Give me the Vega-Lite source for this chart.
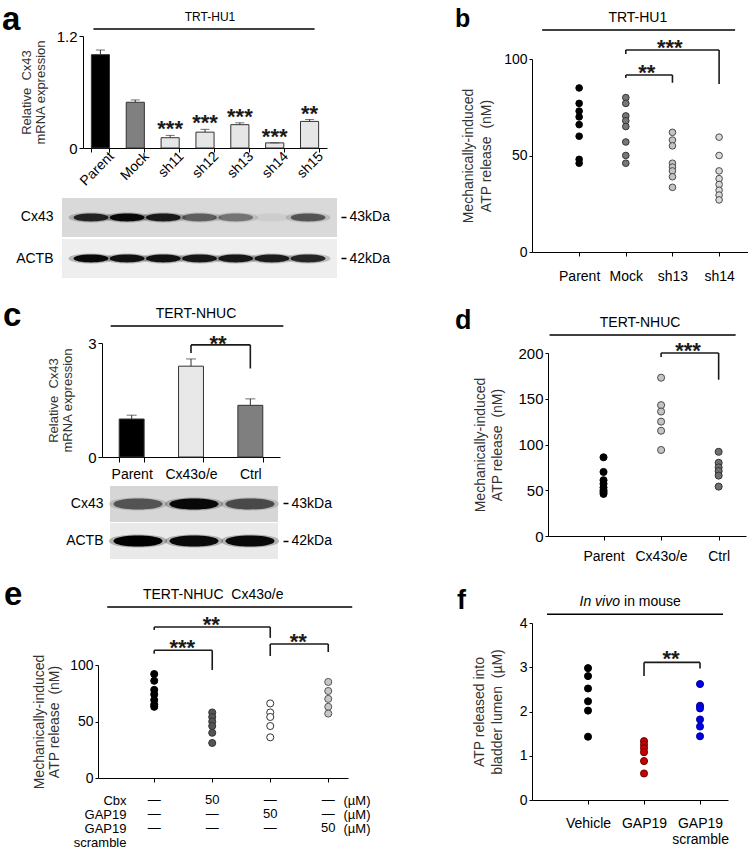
{
"$schema": "https://vega.github.io/schema/vega-lite/v6.json",
"padding": 0,
"background": "#ffffff",
"bounds": "flush",
"spacing": 0,
"resolve": {"scale": {"fill": "independent", "stroke": "independent", "opacity": "independent"}},
"config": {
  "view": {"stroke": null},
  "font": "Liberation Sans",
  "axis": {"domainColor": "#000000", "tickColor": "#000000", "labelColor": "#000000", "titleColor": "#333333", "grid": false, "labelFont": "Liberation Sans", "titleFont": "Liberation Sans", "titleFontWeight": "normal", "labelFontSize": 14, "titleFontSize": 14, "titleLineHeight": 16, "domainWidth": 1, "tickWidth": 1},
  "text": {"font": "Liberation Sans"},
  "title": {"font": "Liberation Sans", "fontWeight": "bold", "color": "#000000"}
},
"datasets": {
  "blank": [{}],
  "blot_rows": [{"protein": "Cx43"}, {"protein": "ACTB"}],
  "a_bars": [
    {"group": "Parent", "mean": 1.0, "upper": 1.05, "sig": ""},
    {"group": "Mock", "mean": 0.49, "upper": 0.515, "sig": ""},
    {"group": "sh11", "mean": 0.11, "upper": 0.135, "sig": "***"},
    {"group": "sh12", "mean": 0.17, "upper": 0.2, "sig": "***"},
    {"group": "sh13", "mean": 0.25, "upper": 0.27, "sig": "***"},
    {"group": "sh14", "mean": 0.055, "upper": 0.055, "sig": "***"},
    {"group": "sh15", "mean": 0.285, "upper": 0.305, "sig": "**"}
  ],
  "a_head": [{"from": "Parent", "to": "sh15", "anchor": "sh12", "level": 1.275, "label": "TRT-HU1"}],
  "a_blot": [
    {"lane": "Parent", "protein": "Cx43", "intensity": 0.8},
    {"lane": "Mock", "protein": "Cx43", "intensity": 0.95},
    {"lane": "sh11", "protein": "Cx43", "intensity": 0.85},
    {"lane": "sh12", "protein": "Cx43", "intensity": 0.5},
    {"lane": "sh13", "protein": "Cx43", "intensity": 0.4},
    {"lane": "sh14", "protein": "Cx43", "intensity": 0.04},
    {"lane": "sh15", "protein": "Cx43", "intensity": 0.55},
    {"lane": "Parent", "protein": "ACTB", "intensity": 0.95},
    {"lane": "Mock", "protein": "ACTB", "intensity": 0.9},
    {"lane": "sh11", "protein": "ACTB", "intensity": 0.9},
    {"lane": "sh12", "protein": "ACTB", "intensity": 0.88},
    {"lane": "sh13", "protein": "ACTB", "intensity": 0.88},
    {"lane": "sh14", "protein": "ACTB", "intensity": 0.85},
    {"lane": "sh15", "protein": "ACTB", "intensity": 0.8}
  ],
  "c_bars": [
    {"group": "Parent", "mean": 1.0, "upper": 1.1},
    {"group": "Cx43o/e", "mean": 2.39, "upper": 2.58},
    {"group": "Ctrl", "mean": 1.36, "upper": 1.53}
  ],
  "c_br": [
    {"from": "Cx43o/e", "to": "Ctrl", "top": 2.95, "end": 2.95},
    {"from": "Cx43o/e", "to": "Cx43o/e", "top": 2.95, "end": 2.74},
    {"from": "Ctrl", "to": "Ctrl", "top": 2.95, "end": 2.33}
  ],
  "c_sig": [{"at": "Cx43o/e", "top": 2.95, "sig": "**"}],
  "c_head": [{"from": "Parent", "to": "Ctrl", "anchor": "Cx43o/e", "level": 3.45, "label": "TERT-NHUC"}],
  "c_blot": [
    {"lane": "Parent", "protein": "Cx43", "intensity": 0.55},
    {"lane": "Cx43o/e", "protein": "Cx43", "intensity": 0.95},
    {"lane": "Ctrl", "protein": "Cx43", "intensity": 0.6},
    {"lane": "Parent", "protein": "ACTB", "intensity": 1.0},
    {"lane": "Cx43o/e", "protein": "ACTB", "intensity": 0.95},
    {"lane": "Ctrl", "protein": "ACTB", "intensity": 0.95}
  ],
  "e_pts": [
    {"group": "Control", "value": 92}, {"group": "Control", "value": 86}, {"group": "Control", "value": 78}, {"group": "Control", "value": 74}, {"group": "Control", "value": 69}, {"group": "Control", "value": 65}, {"group": "Control", "value": 63},
    {"group": "Cbx", "value": 58}, {"group": "Cbx", "value": 54}, {"group": "Cbx", "value": 50}, {"group": "Cbx", "value": 46}, {"group": "Cbx", "value": 40}, {"group": "Cbx", "value": 31},
    {"group": "GAP19", "value": 66}, {"group": "GAP19", "value": 58}, {"group": "GAP19", "value": 54}, {"group": "GAP19", "value": 46}, {"group": "GAP19", "value": 36},
    {"group": "GAP19 scramble", "value": 85}, {"group": "GAP19 scramble", "value": 77}, {"group": "GAP19 scramble", "value": 70}, {"group": "GAP19 scramble", "value": 63}, {"group": "GAP19 scramble", "value": 57}
  ],
  "e_br": [
    {"from": "Control", "to": "Cbx", "top": 113, "end": 113},
    {"from": "Control", "to": "Control", "top": 113, "end": 110},
    {"from": "Cbx", "to": "Cbx", "top": 113, "end": 95.6},
    {"from": "Control", "to": "GAP19", "top": 133.6, "end": 133.6},
    {"from": "Control", "to": "Control", "top": 133.6, "end": 131},
    {"from": "GAP19", "to": "GAP19", "top": 133.6, "end": 124},
    {"from": "GAP19", "to": "GAP19 scramble", "top": 118.6, "end": 118.6},
    {"from": "GAP19", "to": "GAP19", "top": 118.6, "end": 108},
    {"from": "GAP19 scramble", "to": "GAP19 scramble", "top": 118.6, "end": 111.5}
  ],
  "e_sig_a": [{"at": "Control", "top": 113, "sig": "***"}, {"at": "GAP19", "top": 118.6, "sig": "**"}],
  "e_sig_b": [{"at": "Cbx", "top": 133.6, "sig": "**"}],
  "e_head": [{"from": "Control", "to": "GAP19 scramble", "anchor": "Cbx", "level": 151.3, "label": "TERT-NHUC\u00a0 Cx43o/e"}],
  "e_table": [
    {"agent": "Cbx", "group": "Control", "dose": "\u2014"}, {"agent": "Cbx", "group": "Cbx", "dose": "50"}, {"agent": "Cbx", "group": "GAP19", "dose": "\u2014"}, {"agent": "Cbx", "group": "GAP19 scramble", "dose": "\u2014"},
    {"agent": "GAP19", "group": "Control", "dose": "\u2014"}, {"agent": "GAP19", "group": "Cbx", "dose": "\u2014"}, {"agent": "GAP19", "group": "GAP19", "dose": "50"}, {"agent": "GAP19", "group": "GAP19 scramble", "dose": "\u2014"},
    {"agent": "GAP19 scramble", "group": "Control", "dose": "\u2014"}, {"agent": "GAP19 scramble", "group": "Cbx", "dose": "\u2014"}, {"agent": "GAP19 scramble", "group": "GAP19", "dose": "\u2014"}, {"agent": "GAP19 scramble", "group": "GAP19 scramble", "dose": "50"}
  ],
  "e_agents": [{"agent": "Cbx"}, {"agent": "GAP19"}, {"agent": "GAP19 scramble"}],
  "b_pts": [
    {"group": "Parent", "value": 85}, {"group": "Parent", "value": 77}, {"group": "Parent", "value": 73}, {"group": "Parent", "value": 70}, {"group": "Parent", "value": 66}, {"group": "Parent", "value": 60}, {"group": "Parent", "value": 48}, {"group": "Parent", "value": 46},
    {"group": "Mock", "value": 80}, {"group": "Mock", "value": 77}, {"group": "Mock", "value": 70.5}, {"group": "Mock", "value": 68}, {"group": "Mock", "value": 65}, {"group": "Mock", "value": 57}, {"group": "Mock", "value": 50}, {"group": "Mock", "value": 46},
    {"group": "sh13", "value": 62}, {"group": "sh13", "value": 58}, {"group": "sh13", "value": 55}, {"group": "sh13", "value": 46}, {"group": "sh13", "value": 44}, {"group": "sh13", "value": 42}, {"group": "sh13", "value": 39}, {"group": "sh13", "value": 33.5},
    {"group": "sh14", "value": 59.5}, {"group": "sh14", "value": 50}, {"group": "sh14", "value": 42}, {"group": "sh14", "value": 38}, {"group": "sh14", "value": 35}, {"group": "sh14", "value": 32}, {"group": "sh14", "value": 29.5}, {"group": "sh14", "value": 27}
  ],
  "b_br": [
    {"from": "Mock", "to": "sh14", "top": 104.7, "end": 104.7},
    {"from": "Mock", "to": "Mock", "top": 104.7, "end": 102.6},
    {"from": "sh14", "to": "sh14", "top": 104.7, "end": 87},
    {"from": "Mock", "to": "sh13", "top": 91.7, "end": 91.7},
    {"from": "Mock", "to": "Mock", "top": 91.7, "end": 90.2},
    {"from": "sh13", "to": "sh13", "top": 91.7, "end": 87.7}
  ],
  "b_sig3": [{"at": "Mock", "top": 104.7, "sig": "***"}],
  "b_sig2": [{"at": "Mock", "top": 91.7, "sig": "**"}],
  "b_head": [{"from": "Parent", "to": "sh14", "anchor": "Mock", "level": 115, "label": "TRT-HU1"}],
  "d_pts": [
    {"group": "Parent", "value": 86}, {"group": "Parent", "value": 70}, {"group": "Parent", "value": 61}, {"group": "Parent", "value": 57}, {"group": "Parent", "value": 53}, {"group": "Parent", "value": 50}, {"group": "Parent", "value": 48}, {"group": "Parent", "value": 46},
    {"group": "Cx43o/e", "value": 173}, {"group": "Cx43o/e", "value": 143}, {"group": "Cx43o/e", "value": 136}, {"group": "Cx43o/e", "value": 125}, {"group": "Cx43o/e", "value": 115}, {"group": "Cx43o/e", "value": 94},
    {"group": "Ctrl", "value": 92}, {"group": "Ctrl", "value": 80}, {"group": "Ctrl", "value": 75}, {"group": "Ctrl", "value": 71}, {"group": "Ctrl", "value": 66}, {"group": "Ctrl", "value": 54}
  ],
  "d_br": [
    {"from": "Cx43o/e", "to": "Ctrl", "top": 200, "end": 200},
    {"from": "Cx43o/e", "to": "Cx43o/e", "top": 200, "end": 195.6},
    {"from": "Ctrl", "to": "Ctrl", "top": 200, "end": 170.8}
  ],
  "d_sig": [{"at": "Cx43o/e", "top": 200, "sig": "***"}],
  "d_head": [{"from": "Parent", "to": "Ctrl", "anchor": "Cx43o/e", "level": 219.7, "label": "TERT-NHUC"}],
  "f_pts": [
    {"group": "Vehicle", "value": 2.98}, {"group": "Vehicle", "value": 2.8}, {"group": "Vehicle", "value": 2.52}, {"group": "Vehicle", "value": 2.23}, {"group": "Vehicle", "value": 2.02}, {"group": "Vehicle", "value": 1.43},
    {"group": "GAP19", "value": 1.33}, {"group": "GAP19", "value": 1.25}, {"group": "GAP19", "value": 1.17}, {"group": "GAP19", "value": 1.08}, {"group": "GAP19", "value": 0.88}, {"group": "GAP19", "value": 0.6},
    {"group": "GAP19 scramble", "value": 2.62}, {"group": "GAP19 scramble", "value": 2.13}, {"group": "GAP19 scramble", "value": 2.07}, {"group": "GAP19 scramble", "value": 1.82}, {"group": "GAP19 scramble", "value": 1.66}, {"group": "GAP19 scramble", "value": 1.44}
  ],
  "f_br": [
    {"from": "GAP19", "to": "GAP19 scramble", "top": 3.11, "end": 3.11},
    {"from": "GAP19", "to": "GAP19", "top": 3.11, "end": 2.8},
    {"from": "GAP19 scramble", "to": "GAP19 scramble", "top": 3.11, "end": 2.97}
  ],
  "f_sig": [{"at": "GAP19", "top": 3.11, "sig": "**"}],
  "f_head": [{"from": "Vehicle", "to": "GAP19 scramble", "anchor": "GAP19", "level": 4.2, "italic": "In vivo", "rest": "in mouse"}]
},
"vconcat": [
{"bounds": "flush", "spacing": 0, "resolve": {"scale": {"fill": "independent", "stroke": "independent", "opacity": "independent"}}, "hconcat": [
  {"width": 83, "height": 20, "data": {"name": "blank"}, "mark": "text", "encoding": {"text": {"value": ""}}},
  {"bounds": "flush", "spacing": 0, "resolve": {"scale": {"fill": "independent", "stroke": "independent", "opacity": "independent"}}, "vconcat": [
    {"width": 1, "height": 36, "data": {"name": "blank"}, "mark": "text", "encoding": {"text": {"value": ""}},
     "title": {"text": "a", "anchor": "start", "frame": "group", "orient": "top", "offset": -37, "dx": -81, "baseline": "top", "fontSize": 33, "fontWeight": "bold", "color": "#000000"}},
    {"width": 244, "height": 112, "layer": [
      {"data": {"name": "a_bars"}, "mark": {"type": "bar", "stroke": "#333333", "strokeWidth": 1},
       "encoding": {
         "x": {"field": "group", "type": "nominal", "scale": {"type": "band", "domain": ["Parent", "Mock", "sh11", "sh12", "sh13", "sh14", "sh15"], "paddingInner": 0.48, "paddingOuter": 0.24},
               "axis": {"title": null, "labelAngle": -45, "labelAlign": "right", "labelBaseline": "middle", "tickBand": "extent", "tickSize": 4, "labelPadding": 2, "labelOffset": 11, "labelFontSize": 14}},
         "y": {"field": "mean", "type": "quantitative", "scale": {"domain": [0, 1.2]},
               "axis": {"title": ["Relative\u00a0 Cx43", "mRNA expression"], "values": [0, 0.4, 0.8, 1.2], "format": ".1~f", "tickSize": 4, "labelPadding": 2, "labelFontSize": 15, "titleFontSize": 13, "titlePadding": 9, "titleLineHeight": 14}},
         "fill": {"field": "group", "type": "nominal", "scale": {"domain": ["Parent", "Mock", "sh11", "sh12", "sh13", "sh14", "sh15"], "range": ["#000000", "#808080", "#e6e6e6", "#e6e6e6", "#e6e6e6", "#e6e6e6", "#e6e6e6"]}, "legend": null}
       }},
      {"data": {"name": "a_bars"}, "mark": {"type": "rule", "color": "#333333", "strokeWidth": 1},
       "encoding": {"x": {"field": "group", "type": "nominal"}, "y": {"field": "mean", "type": "quantitative"}, "y2": {"field": "upper"}}},
      {"data": {"name": "a_bars"}, "mark": {"type": "tick", "orient": "horizontal", "size": 9, "thickness": 1, "color": "#333333"},
       "encoding": {"x": {"field": "group", "type": "nominal"}, "y": {"field": "upper", "type": "quantitative"}}},
      {"data": {"name": "a_bars"}, "mark": {"type": "text", "fontSize": 22, "fontWeight": "bold", "baseline": "alphabetic", "dy": 1, "color": "#1a1a1a"},
       "encoding": {"x": {"field": "group", "type": "nominal"}, "y": {"field": "upper", "type": "quantitative"}, "text": {"field": "sig"}}},
      {"data": {"name": "a_head"}, "mark": {"type": "rule", "strokeWidth": 1.5, "color": "#000000", "xOffset": -7, "x2Offset": 5},
       "encoding": {"x": {"field": "from", "type": "nominal"}, "x2": {"field": "to"}, "y": {"field": "level", "type": "quantitative"}}},
      {"data": {"name": "a_head"}, "mark": {"type": "text", "fontSize": 12, "baseline": "middle", "dy": -12, "dx": 5, "color": "#000000"},
       "encoding": {"x": {"field": "anchor", "type": "nominal"}, "y": {"field": "level", "type": "quantitative"}, "text": {"field": "label"}}}
    ]}
  ]}
]},
{"bounds": "flush", "spacing": 0, "resolve": {"scale": {"fill": "independent", "stroke": "independent", "opacity": "independent"}}, "hconcat": [
  {"width": 62, "height": 20, "data": {"name": "blank"}, "mark": "text", "encoding": {"text": {"value": ""}}},
  {"bounds": "flush", "spacing": 0, "resolve": {"scale": {"fill": "independent", "stroke": "independent", "opacity": "independent"}}, "vconcat": [
    {"width": 1, "height": 198, "data": {"name": "blank"}, "mark": "text", "encoding": {"text": {"value": ""}}},
    {"width": 275, "height": 80, "layer": [
      {"data": {"name": "blot_rows"}, "mark": {"type": "rect"},
       "encoding": {"y": {"field": "protein", "type": "nominal", "scale": {"type": "band", "domain": ["Cx43", "ACTB"], "paddingInner": 0.05, "paddingOuter": 0}, "axis": null},
                    "fill": {"field": "protein", "type": "nominal", "scale": {"domain": ["Cx43", "ACTB"], "range": ["#d9d9d9", "#eeeeee"]}, "legend": null}}},
      {"data": {"name": "a_blot"}, "mark": {"type": "point", "shape": "M-1,0C-1,-0.3,1,-0.3,1,0C1,0.3,-1,0.3,-1,0Z", "filled": true, "color": "#000000", "size": 2000, "strokeWidth": 0},
       "encoding": {"x": {"field": "lane", "type": "nominal", "scale": {"type": "point", "domain": ["Parent", "Mock", "sh11", "sh12", "sh13", "sh14", "sh15"], "padding": 0.8}, "axis": null},
                    "y": {"field": "protein", "type": "nominal", "axis": {"orient": "right", "title": null, "domain": false, "tickSize": 5, "tickWidth": 1.5, "offset": 4, "labelPadding": 3, "labelFontSize": 14, "labelExpr": "datum.value == 'Cx43' ? '43kDa' : '42kDa'"}},
                    "opacity": {"field": "intensity", "type": "quantitative", "scale": {"domain": [0, 1], "range": [0, 0.25]}, "legend": null}}},
      {"data": {"name": "a_blot"}, "mark": {"type": "point", "shape": "M-1,0C-1,-0.3,1,-0.3,1,0C1,0.3,-1,0.3,-1,0Z", "filled": true, "color": "#000000", "size": 1200, "strokeWidth": 0},
       "encoding": {"x": {"field": "lane", "type": "nominal"},
                    "y": {"field": "protein", "type": "nominal", "axis": {"orient": "left", "title": null, "domain": false, "ticks": false, "tickSize": 0, "labelPadding": 9, "labelFontSize": 14}},
                    "opacity": {"field": "intensity", "type": "quantitative", "scale": {"domain": [0, 1], "range": [0, 1]}, "legend": null}}}
    ], "resolve": {"axis": {"y": "independent"}, "scale": {"opacity": "independent"}}}
  ]}
]},
{"bounds": "flush", "spacing": 0, "resolve": {"scale": {"fill": "independent", "stroke": "independent", "opacity": "independent"}}, "hconcat": [
  {"width": 102, "height": 20, "data": {"name": "blank"}, "mark": "text", "encoding": {"text": {"value": ""}}},
  {"bounds": "flush", "spacing": 0, "resolve": {"scale": {"fill": "independent", "stroke": "independent", "opacity": "independent"}}, "vconcat": [
    {"width": 1, "height": 343, "data": {"name": "blank"}, "mark": "text", "encoding": {"text": {"value": ""}},
     "title": {"text": "c", "anchor": "start", "frame": "group", "orient": "top", "offset": -359, "dx": -99, "baseline": "alphabetic", "fontSize": 33, "fontWeight": "bold", "color": "#000000"}},
    {"width": 178, "height": 114, "layer": [
      {"data": {"name": "c_bars"}, "mark": {"type": "bar", "stroke": "#333333", "strokeWidth": 1},
       "encoding": {
         "x": {"field": "group", "type": "nominal", "scale": {"type": "band", "domain": ["Parent", "Cx43o/e", "Ctrl"], "paddingInner": 0.58, "paddingOuter": 0.29},
               "axis": {"title": null, "labelAngle": 0, "tickBand": "extent", "tickSize": 5, "labelPadding": 12, "labelBaseline": "middle", "labelFontSize": 14}},
         "y": {"field": "mean", "type": "quantitative", "scale": {"domain": [0, 3]},
               "axis": {"title": ["Relative\u00a0 Cx43", "mRNA expression"], "values": [0, 1, 2, 3], "tickSize": 4, "labelPadding": 2, "labelFontSize": 15, "titleFontSize": 13, "titlePadding": 13, "titleLineHeight": 14}},
         "fill": {"field": "group", "type": "nominal", "scale": {"domain": ["Parent", "Cx43o/e", "Ctrl"], "range": ["#000000", "#e8e8e8", "#7f7f7f"]}, "legend": null}
       }},
      {"data": {"name": "c_bars"}, "mark": {"type": "rule", "color": "#333333", "strokeWidth": 1},
       "encoding": {"x": {"field": "group", "type": "nominal"}, "y": {"field": "mean", "type": "quantitative"}, "y2": {"field": "upper"}}},
      {"data": {"name": "c_bars"}, "mark": {"type": "tick", "orient": "horizontal", "size": 10, "thickness": 1, "color": "#333333"},
       "encoding": {"x": {"field": "group", "type": "nominal"}, "y": {"field": "upper", "type": "quantitative"}}},
      {"data": {"name": "c_br"}, "mark": {"type": "rule", "strokeWidth": 1.6, "color": "#1a1a1a"},
       "encoding": {"x": {"field": "from", "type": "nominal"}, "x2": {"field": "to"}, "y": {"field": "top", "type": "quantitative"}, "y2": {"field": "end"}}},
      {"data": {"name": "c_sig"}, "mark": {"type": "text", "fontSize": 22, "fontWeight": "bold", "baseline": "alphabetic", "dx": 27, "dy": 6, "color": "#1a1a1a"},
       "encoding": {"x": {"field": "at", "type": "nominal"}, "y": {"field": "top", "type": "quantitative"}, "text": {"field": "sig"}}},
      {"data": {"name": "c_head"}, "mark": {"type": "rule", "strokeWidth": 1.5, "color": "#000000", "xOffset": -21, "x2Offset": 33},
       "encoding": {"x": {"field": "from", "type": "nominal"}, "x2": {"field": "to"}, "y": {"field": "level", "type": "quantitative"}}},
      {"data": {"name": "c_head"}, "mark": {"type": "text", "fontSize": 14, "baseline": "middle", "dy": -12, "dx": 5, "color": "#000000"},
       "encoding": {"x": {"field": "anchor", "type": "nominal"}, "y": {"field": "level", "type": "quantitative"}, "text": {"field": "label"}}}
    ]}
  ]}
]},
{"bounds": "flush", "spacing": 0, "resolve": {"scale": {"fill": "independent", "stroke": "independent", "opacity": "independent"}}, "hconcat": [
  {"width": 110, "height": 20, "data": {"name": "blank"}, "mark": "text", "encoding": {"text": {"value": ""}}},
  {"bounds": "flush", "spacing": 0, "resolve": {"scale": {"fill": "independent", "stroke": "independent", "opacity": "independent"}}, "vconcat": [
    {"width": 1, "height": 486, "data": {"name": "blank"}, "mark": "text", "encoding": {"text": {"value": ""}}},
    {"width": 168, "height": 73, "layer": [
      {"data": {"name": "blot_rows"}, "mark": {"type": "rect"},
       "encoding": {"y": {"field": "protein", "type": "nominal", "scale": {"type": "band", "domain": ["Cx43", "ACTB"], "paddingInner": 0.03, "paddingOuter": 0}, "axis": null},
                    "fill": {"field": "protein", "type": "nominal", "scale": {"domain": ["Cx43", "ACTB"], "range": ["#d6d6d6", "#e9e9e9"]}, "legend": null}}},
      {"data": {"name": "c_blot"}, "mark": {"type": "point", "shape": "M-1,0C-1,-0.3,1,-0.3,1,0C1,0.3,-1,0.3,-1,0Z", "filled": true, "color": "#000000", "size": 3400, "strokeWidth": 0},
       "encoding": {"x": {"field": "lane", "type": "nominal", "scale": {"type": "point", "domain": ["Parent", "Cx43o/e", "Ctrl"], "padding": 0.5}, "axis": null},
                    "y": {"field": "protein", "type": "nominal", "axis": {"orient": "right", "title": null, "domain": false, "tickSize": 5, "tickWidth": 1.5, "offset": 5, "labelPadding": 3, "labelFontSize": 14, "labelExpr": "datum.value == 'Cx43' ? '43kDa' : '42kDa'"}},
                    "opacity": {"field": "intensity", "type": "quantitative", "scale": {"domain": [0, 1], "range": [0, 0.25]}, "legend": null}}},
      {"data": {"name": "c_blot"}, "mark": {"type": "point", "shape": "M-1,0C-1,-0.3,1,-0.3,1,0C1,0.3,-1,0.3,-1,0Z", "filled": true, "color": "#000000", "size": 2400, "strokeWidth": 0},
       "encoding": {"x": {"field": "lane", "type": "nominal"},
                    "y": {"field": "protein", "type": "nominal", "axis": {"orient": "left", "title": null, "domain": false, "ticks": false, "tickSize": 0, "labelPadding": 7, "labelFontSize": 14}},
                    "opacity": {"field": "intensity", "type": "quantitative", "scale": {"domain": [0, 1], "range": [0, 1]}, "legend": null}}}
    ], "resolve": {"axis": {"y": "independent"}, "scale": {"opacity": "independent"}}}
  ]}
]},
{"bounds": "flush", "spacing": 0, "resolve": {"scale": {"fill": "independent", "stroke": "independent", "opacity": "independent"}}, "hconcat": [
  {"width": 98, "height": 20, "data": {"name": "blank"}, "mark": "text", "encoding": {"text": {"value": ""}}},
  {"bounds": "flush", "spacing": 0, "resolve": {"scale": {"fill": "independent", "stroke": "independent", "opacity": "independent"}}, "vconcat": [
    {"width": 1, "height": 665, "data": {"name": "blank"}, "mark": "text", "encoding": {"text": {"value": ""}},
     "title": {"text": "e", "anchor": "start", "frame": "group", "orient": "top", "offset": -638, "dx": -94, "baseline": "alphabetic", "fontSize": 33, "fontWeight": "bold", "color": "#000000"}},
    {"width": 250, "height": 113, "layer": [
      {"data": {"name": "e_pts"}, "mark": {"type": "circle", "size": 50, "strokeWidth": 1, "opacity": 1},
       "encoding": {
         "x": {"field": "group", "type": "nominal", "scale": {"type": "point", "domain": ["Control", "Cbx", "GAP19", "GAP19 scramble"], "padding": 0.655, "align": 0.74},
               "axis": {"title": null, "labels": false, "tickSize": 4}},
         "y": {"field": "value", "type": "quantitative", "scale": {"domain": [0, 100]},
               "axis": {"title": ["Mechanically-induced", "ATP release\u00a0 (nM)"], "values": [0, 50, 100], "tickSize": 3, "labelPadding": 2, "titlePadding": 8, "titleLineHeight": 15}},
         "fill": {"field": "group", "type": "nominal", "scale": {"domain": ["Control", "Cbx", "GAP19", "GAP19 scramble"], "range": ["#000000", "#555555", "#ffffff", "#c8c8c8"]}, "legend": null},
         "stroke": {"field": "group", "type": "nominal", "scale": {"domain": ["Control", "Cbx", "GAP19", "GAP19 scramble"], "range": ["#000000", "#333333", "#333333", "#555555"]}, "legend": null}
       }},
      {"data": {"name": "e_br"}, "mark": {"type": "rule", "strokeWidth": 1.6, "color": "#1a1a1a"},
       "encoding": {"x": {"field": "from", "type": "nominal"}, "x2": {"field": "to"}, "y": {"field": "top", "type": "quantitative"}, "y2": {"field": "end"}}},
      {"data": {"name": "e_sig_a"}, "mark": {"type": "text", "fontSize": 22, "fontWeight": "bold", "baseline": "alphabetic", "dx": 28, "dy": 5, "color": "#1a1a1a"},
       "encoding": {"x": {"field": "at", "type": "nominal"}, "y": {"field": "top", "type": "quantitative"}, "text": {"field": "sig"}}},
      {"data": {"name": "e_sig_b"}, "mark": {"type": "text", "fontSize": 22, "fontWeight": "bold", "baseline": "alphabetic", "dx": -1, "dy": 5, "color": "#1a1a1a"},
       "encoding": {"x": {"field": "at", "type": "nominal"}, "y": {"field": "top", "type": "quantitative"}, "text": {"field": "sig"}}},
      {"data": {"name": "e_head"}, "mark": {"type": "rule", "strokeWidth": 1.5, "color": "#000000", "xOffset": -47, "x2Offset": 24},
       "encoding": {"x": {"field": "from", "type": "nominal"}, "x2": {"field": "to"}, "y": {"field": "level", "type": "quantitative"}}},
      {"data": {"name": "e_head"}, "mark": {"type": "text", "fontSize": 14, "baseline": "middle", "dy": -12, "dx": 1, "color": "#000000"},
       "encoding": {"x": {"field": "anchor", "type": "nominal"}, "y": {"field": "level", "type": "quantitative"}, "text": {"field": "label"}}}
    ]}
  ]}
]},
{"bounds": "flush", "spacing": 0, "resolve": {"scale": {"fill": "independent", "stroke": "independent", "opacity": "independent"}}, "hconcat": [
  {"width": 98, "height": 20, "data": {"name": "blank"}, "mark": "text", "encoding": {"text": {"value": ""}}},
  {"bounds": "flush", "spacing": 0, "resolve": {"scale": {"fill": "independent", "stroke": "independent", "opacity": "independent"}}, "vconcat": [
    {"width": 1, "height": 804, "data": {"name": "blank"}, "mark": "text", "encoding": {"text": {"value": ""}}},
    {"width": 250, "height": 28, "layer": [
      {"data": {"name": "e_table"}, "mark": {"type": "text", "fontSize": 13, "baseline": "alphabetic", "color": "#000000"},
       "encoding": {
         "x": {"field": "group", "type": "nominal", "scale": {"type": "point", "domain": ["Control", "Cbx", "GAP19", "GAP19 scramble"], "padding": 0.655, "align": 0.74}, "axis": null},
         "y": {"field": "agent", "type": "nominal", "scale": {"type": "point", "domain": ["Cbx", "GAP19", "GAP19 scramble"], "padding": 0},
               "axis": {"orient": "left", "title": null, "domain": false, "ticks": false, "tickSize": 0, "offset": -30, "labelPadding": 2, "labelBaseline": "alphabetic", "labelFontSize": 13, "labelLineHeight": 14, "labelExpr": "datum.value == 'GAP19 scramble' ? ['GAP19', 'scramble'] : datum.value"}},
         "text": {"field": "dose"}
       }},
      {"data": {"name": "e_agents"}, "mark": {"type": "text"},
       "encoding": {
         "y": {"field": "agent", "type": "nominal",
               "axis": {"orient": "right", "title": null, "domain": false, "ticks": false, "tickSize": 0, "offset": -5, "labelPadding": 0, "labelBaseline": "alphabetic", "labelFontSize": 13, "labelExpr": "'(\u00b5M)'"}},
         "text": {"value": ""}
       }}
    ], "resolve": {"axis": {"y": "independent"}}}
  ]}
]},
{"bounds": "flush", "spacing": 0, "resolve": {"scale": {"fill": "independent", "stroke": "independent", "opacity": "independent"}}, "hconcat": [
  {"width": 532, "height": 20, "data": {"name": "blank"}, "mark": "text", "encoding": {"text": {"value": ""}}},
  {"bounds": "flush", "spacing": 0, "resolve": {"scale": {"fill": "independent", "stroke": "independent", "opacity": "independent"}}, "vconcat": [
    {"width": 1, "height": 59, "data": {"name": "blank"}, "mark": "text", "encoding": {"text": {"value": ""}},
     "title": {"text": "b", "anchor": "start", "frame": "group", "orient": "top", "offset": -52, "dx": -77, "baseline": "alphabetic", "fontSize": 25, "fontWeight": "bold", "color": "#000000"}},
    {"width": 216, "height": 193, "layer": [
      {"data": {"name": "b_pts"}, "mark": {"type": "circle", "size": 44, "strokeWidth": 1, "opacity": 1},
       "encoding": {
         "x": {"field": "group", "type": "nominal", "scale": {"type": "point", "domain": ["Parent", "Mock", "sh13", "sh14"], "padding": 0.815, "align": 0.62},
               "axis": {"title": null, "labelAngle": 0, "tickSize": 4, "labelPadding": 20, "labelBaseline": "middle", "labelFontSize": 14}},
         "y": {"field": "value", "type": "quantitative", "scale": {"domain": [0, 100]},
               "axis": {"title": ["Mechanically-induced", "ATP release\u00a0 (nM)"], "values": [0, 50, 100], "tickSize": 3, "labelPadding": 2, "titlePadding": 10, "titleLineHeight": 18}},
         "fill": {"field": "group", "type": "nominal", "scale": {"domain": ["Parent", "Mock", "sh13", "sh14"], "range": ["#000000", "#777777", "#c4c4c4", "#dadada"]}, "legend": null},
         "stroke": {"field": "group", "type": "nominal", "scale": {"domain": ["Parent", "Mock", "sh13", "sh14"], "range": ["#000000", "#333333", "#4a4a4a", "#4a4a4a"]}, "legend": null}
       }},
      {"data": {"name": "b_br"}, "mark": {"type": "rule", "strokeWidth": 1.6, "color": "#1a1a1a"},
       "encoding": {"x": {"field": "from", "type": "nominal"}, "x2": {"field": "to"}, "y": {"field": "top", "type": "quantitative"}, "y2": {"field": "end"}}},
      {"data": {"name": "b_sig3"}, "mark": {"type": "text", "fontSize": 22, "fontWeight": "bold", "baseline": "alphabetic", "dx": 44, "dy": 5, "color": "#1a1a1a"},
       "encoding": {"x": {"field": "at", "type": "nominal"}, "y": {"field": "top", "type": "quantitative"}, "text": {"field": "sig"}}},
      {"data": {"name": "b_sig2"}, "mark": {"type": "text", "fontSize": 22, "fontWeight": "bold", "baseline": "alphabetic", "dx": 21, "dy": 5, "color": "#1a1a1a"},
       "encoding": {"x": {"field": "at", "type": "nominal"}, "y": {"field": "top", "type": "quantitative"}, "text": {"field": "sig"}}},
      {"data": {"name": "b_head"}, "mark": {"type": "rule", "strokeWidth": 1.5, "color": "#000000", "xOffset": -37, "x2Offset": 16},
       "encoding": {"x": {"field": "from", "type": "nominal"}, "x2": {"field": "to"}, "y": {"field": "level", "type": "quantitative"}}},
      {"data": {"name": "b_head"}, "mark": {"type": "text", "fontSize": 14, "baseline": "middle", "dy": -12, "dx": 12, "color": "#000000"},
       "encoding": {"x": {"field": "anchor", "type": "nominal"}, "y": {"field": "level", "type": "quantitative"}, "text": {"field": "label"}}}
    ]}
  ]}
]},
{"bounds": "flush", "spacing": 0, "resolve": {"scale": {"fill": "independent", "stroke": "independent", "opacity": "independent"}}, "hconcat": [
  {"width": 548, "height": 20, "data": {"name": "blank"}, "mark": "text", "encoding": {"text": {"value": ""}}},
  {"bounds": "flush", "spacing": 0, "resolve": {"scale": {"fill": "independent", "stroke": "independent", "opacity": "independent"}}, "vconcat": [
    {"width": 1, "height": 353, "data": {"name": "blank"}, "mark": "text", "encoding": {"text": {"value": ""}},
     "title": {"text": "d", "anchor": "start", "frame": "group", "orient": "top", "offset": -356, "dx": -93, "baseline": "alphabetic", "fontSize": 27, "fontWeight": "bold", "color": "#000000"}},
    {"width": 198, "height": 183, "layer": [
      {"data": {"name": "d_pts"}, "mark": {"type": "circle", "size": 50, "strokeWidth": 1, "opacity": 1},
       "encoding": {
         "x": {"field": "group", "type": "nominal", "scale": {"type": "point", "domain": ["Parent", "Cx43o/e", "Ctrl"], "padding": 0.72, "align": 0.67},
               "axis": {"title": null, "labelAngle": 0, "tickSize": 4, "labelPadding": 16, "labelBaseline": "middle", "labelFontSize": 14}},
         "y": {"field": "value", "type": "quantitative", "scale": {"domain": [0, 200]},
               "axis": {"title": ["Mechanically-induced", "ATP release\u00a0 (nM)"], "values": [0, 50, 100, 150, 200], "tickSize": 3, "labelPadding": 2, "labelFontSize": 15, "titlePadding": 13, "titleLineHeight": 17}},
         "fill": {"field": "group", "type": "nominal", "scale": {"domain": ["Parent", "Cx43o/e", "Ctrl"], "range": ["#000000", "#c4c4c4", "#707070"]}, "legend": null},
         "stroke": {"field": "group", "type": "nominal", "scale": {"domain": ["Parent", "Cx43o/e", "Ctrl"], "range": ["#000000", "#4a4a4a", "#333333"]}, "legend": null}
       }},
      {"data": {"name": "d_br"}, "mark": {"type": "rule", "strokeWidth": 1.6, "color": "#1a1a1a"},
       "encoding": {"x": {"field": "from", "type": "nominal"}, "x2": {"field": "to"}, "y": {"field": "top", "type": "quantitative"}, "y2": {"field": "end"}}},
      {"data": {"name": "d_sig"}, "mark": {"type": "text", "fontSize": 22, "fontWeight": "bold", "baseline": "alphabetic", "dx": 27, "dy": 5, "color": "#1a1a1a"},
       "encoding": {"x": {"field": "at", "type": "nominal"}, "y": {"field": "top", "type": "quantitative"}, "text": {"field": "sig"}}},
      {"data": {"name": "d_head"}, "mark": {"type": "rule", "strokeWidth": 1.5, "color": "#000000", "xOffset": -54, "x2Offset": 17},
       "encoding": {"x": {"field": "from", "type": "nominal"}, "x2": {"field": "to"}, "y": {"field": "level", "type": "quantitative"}}},
      {"data": {"name": "d_head"}, "mark": {"type": "text", "fontSize": 14, "baseline": "middle", "dy": -12, "dx": -21, "color": "#000000"},
       "encoding": {"x": {"field": "anchor", "type": "nominal"}, "y": {"field": "level", "type": "quantitative"}, "text": {"field": "label"}}}
    ]}
  ]}
]},
{"bounds": "flush", "spacing": 0, "resolve": {"scale": {"fill": "independent", "stroke": "independent", "opacity": "independent"}}, "hconcat": [
  {"width": 532, "height": 20, "data": {"name": "blank"}, "mark": "text", "encoding": {"text": {"value": ""}}},
  {"bounds": "flush", "spacing": 0, "resolve": {"scale": {"fill": "independent", "stroke": "independent", "opacity": "independent"}}, "vconcat": [
    {"width": 1, "height": 623, "data": {"name": "blank"}, "mark": "text", "encoding": {"text": {"value": ""}},
     "title": {"text": "f", "anchor": "start", "frame": "group", "orient": "top", "offset": -636, "dx": -75, "baseline": "alphabetic", "fontSize": 27, "fontWeight": "bold", "color": "#000000"}},
    {"width": 196, "height": 177, "layer": [
      {"data": {"name": "f_pts"}, "mark": {"type": "circle", "size": 50, "strokeWidth": 1, "opacity": 1},
       "encoding": {
         "x": {"field": "group", "type": "nominal", "scale": {"type": "point", "domain": ["Vehicle", "GAP19", "GAP19 scramble"], "padding": 0.75, "align": 0.667},
               "axis": {"title": null, "labelAngle": 0, "tickSize": 4, "labelPadding": 19, "labelBaseline": "middle", "labelFontSize": 14, "labelLineHeight": 16, "labelExpr": "datum.value == 'GAP19 scramble' ? ['GAP19', 'scramble'] : datum.value"}},
         "y": {"field": "value", "type": "quantitative", "scale": {"domain": [0, 4]},
               "axis": {"title": ["ATP released into", "bladder lumen\u00a0 (\u00b5M)"], "values": [0, 1, 2, 3, 4], "tickSize": 3, "labelPadding": 2, "titlePadding": 15, "titleLineHeight": 18}},
         "fill": {"field": "group", "type": "nominal", "scale": {"domain": ["Vehicle", "GAP19", "GAP19 scramble"], "range": ["#000000", "#cc0000", "#0000ee"]}, "legend": null},
         "stroke": {"field": "group", "type": "nominal", "scale": {"domain": ["Vehicle", "GAP19", "GAP19 scramble"], "range": ["#000000", "#660000", "#00008b"]}, "legend": null}
       }},
      {"data": {"name": "f_br"}, "mark": {"type": "rule", "strokeWidth": 1.6, "color": "#1a1a1a"},
       "encoding": {"x": {"field": "from", "type": "nominal"}, "x2": {"field": "to"}, "y": {"field": "top", "type": "quantitative"}, "y2": {"field": "end"}}},
      {"data": {"name": "f_sig"}, "mark": {"type": "text", "fontSize": 22, "fontWeight": "bold", "baseline": "alphabetic", "dx": 27, "dy": 4, "color": "#1a1a1a"},
       "encoding": {"x": {"field": "at", "type": "nominal"}, "y": {"field": "top", "type": "quantitative"}, "text": {"field": "sig"}}},
      {"data": {"name": "f_head"}, "mark": {"type": "rule", "strokeWidth": 1.5, "color": "#000000", "xOffset": -41, "x2Offset": 23},
       "encoding": {"x": {"field": "from", "type": "nominal"}, "x2": {"field": "to"}, "y": {"field": "level", "type": "quantitative"}}},
      {"data": {"name": "f_head"}, "mark": {"type": "text", "fontSize": 14, "fontStyle": "italic", "align": "right", "baseline": "middle", "dy": -12, "dx": -24, "color": "#000000"},
       "encoding": {"x": {"field": "anchor", "type": "nominal"}, "y": {"field": "level", "type": "quantitative"}, "text": {"field": "italic"}}},
      {"data": {"name": "f_head"}, "mark": {"type": "text", "fontSize": 14, "align": "left", "baseline": "middle", "dy": -12, "dx": -20, "color": "#000000"},
       "encoding": {"x": {"field": "anchor", "type": "nominal"}, "y": {"field": "level", "type": "quantitative"}, "text": {"field": "rest"}}}
    ]}
  ]}
]}
]
}
